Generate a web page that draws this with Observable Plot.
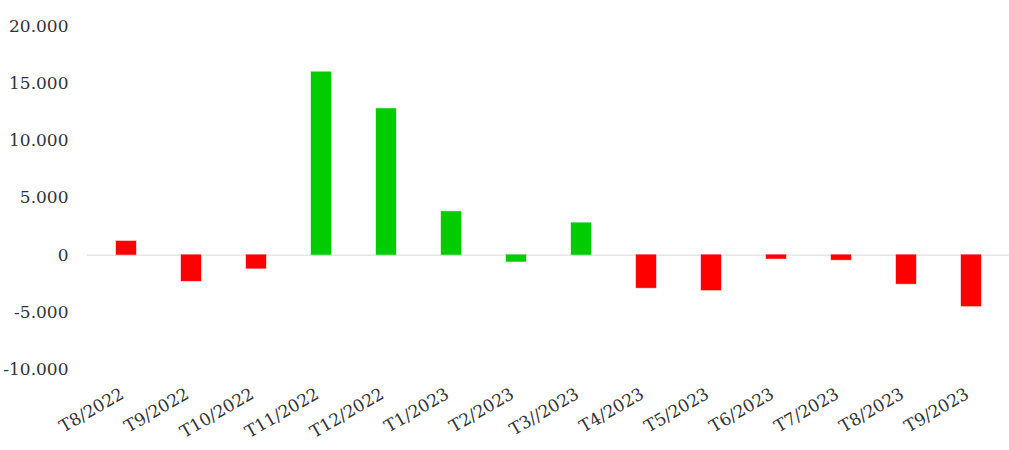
<!DOCTYPE html>
<html>
<head>
<meta charset="utf-8">
<script src="https://cdn.jsdelivr.net/npm/d3@7"></script>
<script src="https://cdn.jsdelivr.net/npm/@observablehq/plot@0.6"></script>
<style>
  html, body { margin: 0; padding: 0; background: #fff; }
  #chart svg { display: block; }
</style>
</head>
<body>
<div id="chart"></div>
<script>
const months = ["T8/2022","T9/2022","T10/2022","T11/2022","T12/2022","T1/2023","T2/2023","T3//2023","T4/2023","T5/2023","T6/2023","T7/2023","T8/2023","T9/2023"];
const values = [1200, -2300, -1200, 16000, 12800, 3800, -600, 2800, -2900, -3100, -350, -450, -2550, -4500];
const barColors = ["#ff0000","#ff0000","#ff0000","#00cc00","#00cc00","#00cc00","#00cc00","#00cc00","#ff0000","#ff0000","#ff0000","#ff0000","#ff0000","#ff0000"];
const yTicks = [-10000, -5000, 0, 5000, 10000, 15000, 20000];

const data = months.map((m, i) => ({month: m, value: values[i], color: barColors[i]}));
const locale = d3.formatLocale({decimal: ",", thousands: ".", grouping: [3], currency: ["", ""], minus: "-"});
const fmt = locale.format(",d");

const chart = Plot.plot({
  width: 1009,
  height: 450,
  marginTop: 26,
  marginBottom: 81,
  marginLeft: 87,
  marginRight: 0,
  style: {fontFamily: "'DejaVu Serif', serif", fontSize: "17px", color: "#333", background: "#fff"},
  x: {domain: months, paddingInner: 0.7, paddingOuter: 0.35, label: null},
  y: {domain: [-10000, 20000], label: null},
  marks: [
    Plot.ruleY([0], {stroke: "#d9d9d9", strokeWidth: 1}),
    Plot.barY(data, {x: "month", y: "value", fill: "color", stroke: "color", strokeOpacity: 0.4}),
    Plot.axisY({ticks: yTicks, tickFormat: fmt, tickSize: 0, tickPadding: 19, label: null, fontSize: 17}),
    Plot.axisX({tickSize: 0, tickRotate: -30, tickPadding: 23, dx: -4, label: null, fontSize: 17})
  ]
});
document.getElementById("chart").append(chart);
</script>
</body>
</html>
